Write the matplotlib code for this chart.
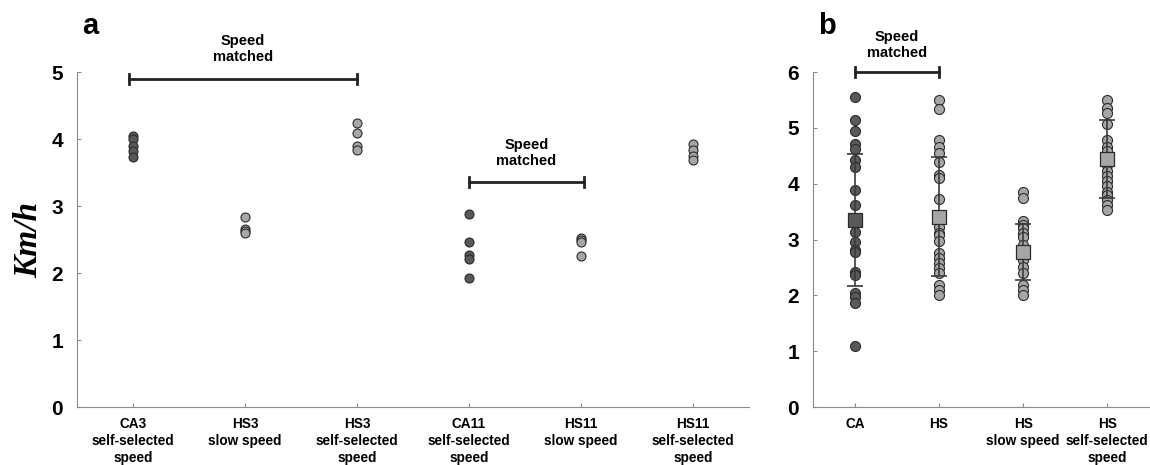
import matplotlib
matplotlib.use('Agg')
import matplotlib.pyplot as plt

plt.rcParams['font.family'] = ['Liberation Sans', 'DejaVu Sans']

# panel a - individual speeds
cats_a1 = ['CA3\nself-selected\nspeed', 'HS3\nslow speed', 'HS3\nself-selected\nspeed']
cats_a2 = ['CA11\nself-selected\nspeed', 'HS11\nslow speed', 'HS11\nself-selected\nspeed']
ca3_self = [4.05, 4.0, 3.9, 3.82, 3.73]
hs3_slow = [2.83, 2.65, 2.62, 2.60]
hs3_self = [4.24, 4.09, 3.90, 3.84]
ca11_self = [2.88, 2.46, 2.27, 2.21, 1.93]
hs11_slow = [2.53, 2.50, 2.47, 2.25]
hs11_self = [3.93, 3.84, 3.75, 3.69]

# panel b - group speeds
cats_b = ['CA', 'HS', 'HS\nslow speed', 'HS\nself-selected\nspeed']
ca_all = [5.56, 5.14, 4.95, 4.71, 4.62, 4.43, 4.30, 3.89, 3.62, 3.14, 2.95, 2.82,
          2.78, 2.42, 2.36, 2.04, 1.97, 1.86, 1.09]
hs_all = [5.50, 5.33, 4.78, 4.66, 4.55, 4.38, 4.16, 4.10, 3.73, 3.23, 3.12, 3.08,
          2.98, 2.76, 2.67, 2.58, 2.49, 2.40, 2.19, 2.10, 2.01]
hs_slow_all = [3.85, 3.74, 3.34, 3.26, 3.20, 3.12, 3.05, 2.90, 2.80, 2.72, 2.63,
               2.51, 2.40, 2.19, 2.10, 2.01]
hs_self_all = [5.50, 5.35, 5.26, 5.07, 4.78, 4.66, 4.58, 4.45, 4.33, 4.22, 4.14,
               4.04, 3.95, 3.86, 3.80, 3.71, 3.62, 3.53]
means_b = [3.35, 3.41, 2.78, 4.44]
sd_b = [1.19, 1.06, 0.50, 0.70]

dark = '#595959'
light = '#a6a6a6'
edge = '#2b2b2b'
spine_col = '#8c8c8c'

fig = plt.figure(figsize=(11.5, 4.65), dpi=100)
bot, h = 0.1247, 0.7204
ax1 = fig.add_axes([0.067, bot, 0.2922, h])
ax2 = fig.add_axes([0.359, bot, 0.2922, h])
axb = fig.add_axes([0.707, bot, 0.2922, h])


def style(ax, left=True):
    for s in ['top', 'right']:
        ax.spines[s].set_visible(False)
    ax.spines['left'].set_visible(left)
    ax.spines['left'].set_color(spine_col)
    ax.spines['bottom'].set_color(spine_col)
    ax.tick_params(axis='x', direction='in', length=3, color=spine_col, pad=7)
    ax.tick_params(axis='y', direction='in', length=3, color=spine_col, pad=10,
                   labelsize=15)
    if not left:
        ax.tick_params(axis='y', left=False, labelleft=False)


def bracket(ax, x0, x1, y, txt_y):
    cap = 0.075 * ax.get_ylim()[1] / 5
    ax.plot([x0, x1], [y, y], color='#222222', lw=2, clip_on=False)
    ax.plot([x0, x0], [y - cap, y + cap], color='#222222', lw=2, clip_on=False)
    ax.plot([x1, x1], [y - cap, y + cap], color='#222222', lw=2, clip_on=False)
    ax.text((x0 + x1) / 2, txt_y, 'Speed\nmatched', ha='center', va='bottom',
            fontsize=10.5, fontweight='bold', linespacing=1.2, clip_on=False)


# panel a
for ax, cats, groups, cols in [
        (ax1, cats_a1, [ca3_self, hs3_slow, hs3_self], [dark, light, light]),
        (ax2, cats_a2, [ca11_self, hs11_slow, hs11_self], [dark, light, light])]:
    ax.set_xlim(-0.5, 2.5)
    ax.set_ylim(0, 5)
    for i, (vals, c) in enumerate(zip(groups, cols)):
        ax.scatter([i] * len(vals), vals, s=42, facecolor=c, edgecolor=edge,
                   linewidth=0.8, zorder=3, clip_on=False)
    ax.set_xticks(range(3))
    ax.set_xticklabels(cats, fontsize=9.8, fontweight='bold', linespacing=1.3)

style(ax1)
style(ax2, left=False)
ax1.set_yticks(range(6))
ax1.set_yticklabels([str(v) for v in range(6)], fontweight='bold')

bracket(ax1, -0.04, 2.0, 4.9, 5.12)
bracket(ax2, 0.0, 1.03, 3.36, 3.57)

# panel b
axb.set_xlim(-0.5, 3.5)
axb.set_ylim(0, 6)
groups_b = [ca_all, hs_all, hs_slow_all, hs_self_all]
cols_b = [dark, light, light, light]
for i, (vals, c) in enumerate(zip(groups_b, cols_b)):
    axb.scatter([i] * len(vals), vals, s=52, facecolor=c, edgecolor=edge,
                linewidth=0.8, zorder=2, clip_on=False)
axb.errorbar(range(4), means_b, yerr=sd_b, fmt='none', ecolor='#3a3a3a',
             elinewidth=1.2, capsize=6, capthick=1.2, zorder=3)
for i, (m, c) in enumerate(zip(means_b, cols_b)):
    axb.scatter([i], [m], s=110, marker='s', facecolor=c, edgecolor=edge,
                linewidth=0.9, zorder=4)
axb.set_xticks(range(4))
axb.set_xticklabels(cats_b, fontsize=9.8, fontweight='bold', linespacing=1.3)
style(axb)
axb.set_yticks(range(7))
axb.set_yticklabels([str(v) for v in range(7)], fontweight='bold')
bracket(axb, 0.0, 1.0, 6.0, 6.22)

fig.text(0.025, 0.485, 'Km/h', rotation=90, ha='center', va='center',
         fontsize=24, fontstyle='italic', fontweight='bold', family='Liberation Serif')
fig.text(0.071, 0.945, 'a', fontsize=21, fontweight='bold', ha='left', va='center')
fig.text(0.711, 0.945, 'b', fontsize=21, fontweight='bold', ha='left', va='center')

fig.savefig('out.png', dpi=100)
